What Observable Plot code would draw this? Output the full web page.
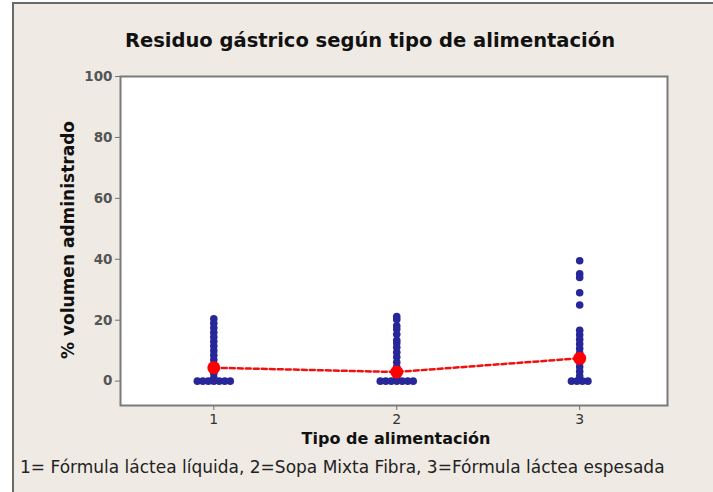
<!DOCTYPE html>
<html>
<head>
<meta charset="utf-8">
<script src="https://cdn.jsdelivr.net/npm/d3@7"></script>
<script src="https://cdn.jsdelivr.net/npm/@observablehq/plot@0.6"></script>
<style>
  html, body { margin: 0; padding: 0; background: #ffffff; }
  #wrap { position: relative; width: 713px; height: 492px; overflow: hidden; }
  #panel { position: absolute; left: 12px; top: 2px; width: 701px; height: 490px;
           background: #efebe4; border-left: 2px solid #6a6a6a; border-top: 2px solid #6a6a6a; }
  .t { position: absolute; font-family: "DejaVu Sans", sans-serif; color: #111; white-space: nowrap; }
  #title { left: 0; width: 740px; top: 29px; text-align: center; font-size: 19.5px; font-weight: bold; }
  #xlabel { left: 0; width: 792px; top: 429px; text-align: center; font-size: 16px; font-weight: bold; }
  #ylabel { left: 68px; top: 240px; font-size: 17px; font-weight: bold; transform: translate(-50%, -50%) rotate(-90deg); }
  #caption { left: 20px; top: 457px; font-size: 17px; color: #222; }
  #chart { position: absolute; left: 0; top: 0; }
  #chart svg { background: transparent; }
</style>
</head>
<body>
<div id="wrap">
  <div id="panel"></div>
  <div id="chart"></div>
  <div class="t" id="title">Residuo gástrico según tipo de alimentación</div>
  <div class="t" id="ylabel">% volumen administrado</div>
  <div class="t" id="xlabel">Tipo de alimentación</div>
  <div class="t" id="caption">1= Fórmula láctea líquida, 2=Sopa Mixta Fibra, 3=Fórmula láctea espesada</div>
</div>
<script>
// Groups (tipo de alimentación)
const groups = [1, 2, 3];
// Non-zero residue values (% volumen administrado)
const group1Values = [20.5, 19, 17.5, 16, 14.5, 13, 11.5, 10, 8.5, 7, 5.5, 4, 2.5, 1];
const group2Values = [21.2, 20.2, 18.2, 17.1, 15.4, 13.4, 12.5, 11.1, 9.5, 7.9, 6.2, 4.6, 2.5, 1];
const group3Values = [39.5, 35.2, 34, 29, 25, 16.7, 15.2, 13.7, 12.2, 10.7, 9.2, 7.7, 6.2, 4.7, 3.2, 1.7];
// Number of zero values spread sideways at 0
const zeroCounts = [7, 7, 4];
// Group means (red points)
const means = [4.4, 3.0, 7.5];
// Axis ticks
const yTicks = [0, 20, 40, 60, 80, 100];
const xTicks = [1, 2, 3];

const pts = [];
[group1Values, group2Values, group3Values].forEach((vals, i) => {
  vals.forEach(v => pts.push({x: groups[i], y: v}));
  const n = zeroCounts[i];
  for (let k = 0; k < n; k++) pts.push({x: groups[i] + (k - (n - 1) / 2) * 0.03, y: 0});
});
const meanData = groups.map((g, i) => ({x: g, y: means[i]}));

const chart = Plot.plot({
  width: 713,
  height: 455,
  marginLeft: 120,
  marginRight: 46,
  marginTop: 76,
  marginBottom: 50,
  style: {background: "transparent", fontFamily: "'DejaVu Sans', sans-serif", fontSize: "13px"},
  x: {domain: [0.49, 3.48]},
  y: {domain: [-8, 100]},
  marks: [
    Plot.rectY([0], {x1: 0.49, x2: 3.48, y1: -8, y2: 100, fill: "white"}),
    Plot.axisY({ticks: yTicks, tickSize: 5, tickPadding: 3, label: null, stroke: "#707070", color: "#555", fontWeight: "bold", fontSize: 13.5}),
    Plot.axisX({ticks: xTicks, tickFormat: d => String(d), tickSize: 5, tickPadding: 4, label: null, stroke: "#707070", color: "#333", fontSize: 14}),
    Plot.dot(pts, {x: "x", y: "y", r: 3.8, fill: "#27279a", stroke: "none"}),
    Plot.line(meanData, {x: "x", y: "y", stroke: "#f01010", strokeWidth: 2.5, strokeDasharray: "5,3"}),
    Plot.dot(meanData, {x: "x", y: "y", r: 6.5, fill: "#ff0000", stroke: "none"}),
    Plot.frame({stroke: "#7a7a7a", strokeWidth: 2})
  ]
});
document.getElementById("chart").appendChild(chart);
</script>
</body>
</html>
